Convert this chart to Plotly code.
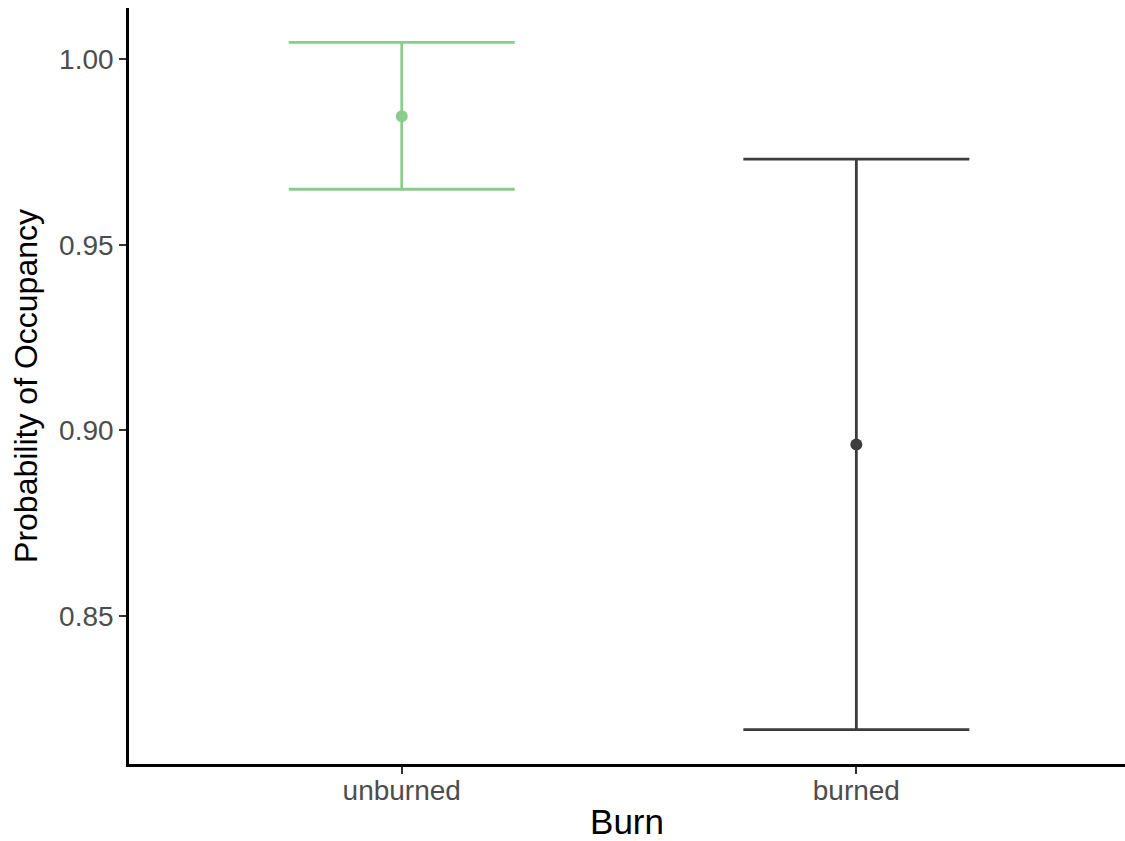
import plotly.graph_objects as go

# Estimated occupancy probability with confidence limits, by burn status
burn = ["unburned", "burned"]
estimate = [0.9847, 0.8962]
lower = [0.9650, 0.8193]
upper = [1.0046, 0.9731]
colors = ["#8BCB8B", "#3D3D3D"]

fig = go.Figure()
for i, name in enumerate(burn):
    fig.add_trace(go.Scatter(
        x=[i + 1],
        y=[estimate[i]],
        mode="markers",
        marker=dict(color=colors[i], size=12),
        error_y=dict(
            type="data",
            symmetric=False,
            array=[upper[i] - estimate[i]],
            arrayminus=[estimate[i] - lower[i]],
            color=colors[i],
            thickness=2.8,
            width=113,
        ),
        showlegend=False,
        hoverinfo="skip",
    ))

# ggplot-style 5% padding around the data on the y axis
lo, hi = min(lower), max(upper)
pad = 0.05 * (hi - lo)

fig.update_layout(
    width=1125,
    height=841,
    margin=dict(l=129, r=0, t=8, b=75),
    plot_bgcolor="white",
    paper_bgcolor="white",
    font=dict(family="Liberation Sans, Arial, sans-serif"),
    xaxis=dict(
        range=[0.4, 2.591],
        tickmode="array",
        tickvals=[1, 2],
        ticktext=burn,
        showgrid=False,
        zeroline=False,
        showline=True,
        linecolor="black",
        linewidth=2.6,
        ticks="outside",
        ticklen=7,
        tickwidth=2,
        tickcolor="#333333",
        ticklabelstandoff=-7,
        tickfont=dict(size=28, color="#4D4D4D"),
        title=dict(text="Burn", font=dict(size=35, color="black"), standoff=10),
    ),
    yaxis=dict(
        range=[lo - pad, hi + pad],
        tickmode="array",
        tickvals=[0.85, 0.90, 0.95, 1.00],
        ticktext=["0.85", "0.90", "0.95", "1.00"],
        showgrid=False,
        zeroline=False,
        showline=True,
        linecolor="black",
        linewidth=2.6,
        ticks="outside",
        ticklen=7,
        tickwidth=2,
        tickcolor="#333333",
        tickfont=dict(size=28, color="#4D4D4D"),
        title=dict(text="Probability of Occupancy", font=dict(size=32, color="black"), standoff=12),
    ),
)

fig.write_html("out.html")
